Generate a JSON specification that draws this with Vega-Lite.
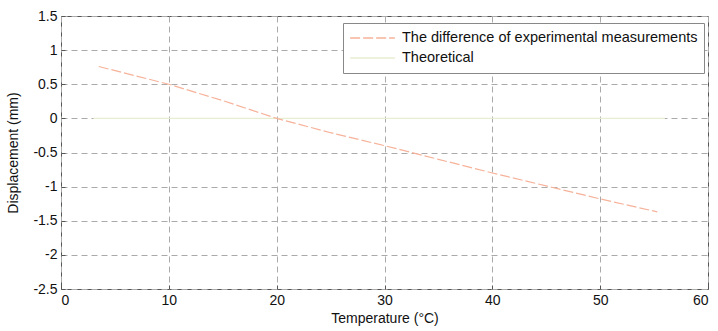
{
  "$schema": "https://vega.github.io/schema/vega-lite/v6.json",
  "width": 647,
  "height": 273,
  "autosize": {"type": "none"},
  "padding": {"left": 61, "top": 16, "right": 10, "bottom": 42},
  "background": "white",
  "config": {
    "font": "Liberation Sans",
    "view": {"stroke": "#555555", "strokeWidth": 1},
    "axis": {
      "labelFont": "Liberation Sans",
      "titleFont": "Liberation Sans",
      "labelFontSize": 14,
      "titleFontSize": 14,
      "titleFontWeight": "normal",
      "labelColor": "#111111",
      "titleColor": "#111111",
      "grid": true,
      "gridColor": "#aaaaaa",
      "gridDash": [6, 4],
      "gridWidth": 1,
      "domain": false,
      "tickColor": "#555555",
      "tickSize": -4,
      "labelPadding": 6
    }
  },
  "data": {
    "values": [
      {"t": 3.0, "d": 0.0, "series": "Theoretical"},
      {"t": 56.0, "d": 0.0, "series": "Theoretical"},
      {"t": 3.5, "d": 0.76, "series": "The difference of experimental measurements"},
      {"t": 10, "d": 0.50, "series": "The difference of experimental measurements"},
      {"t": 15, "d": 0.26, "series": "The difference of experimental measurements"},
      {"t": 20, "d": 0.0, "series": "The difference of experimental measurements"},
      {"t": 25, "d": -0.21, "series": "The difference of experimental measurements"},
      {"t": 30, "d": -0.40, "series": "The difference of experimental measurements"},
      {"t": 35, "d": -0.60, "series": "The difference of experimental measurements"},
      {"t": 40, "d": -0.80, "series": "The difference of experimental measurements"},
      {"t": 45, "d": -0.99, "series": "The difference of experimental measurements"},
      {"t": 50, "d": -1.18, "series": "The difference of experimental measurements"},
      {"t": 55.3, "d": -1.37, "series": "The difference of experimental measurements"}
    ]
  },
  "mark": {"type": "line", "strokeWidth": 1.2, "clip": true},
  "encoding": {
    "x": {
      "field": "t", "type": "quantitative",
      "scale": {"domain": [0, 60], "nice": false, "zero": false},
      "axis": {"title": "Temperature (°C)", "values": [0, 10, 20, 30, 40, 50, 60], "titlePadding": 4, "labelPadding": 8}
    },
    "y": {
      "field": "d", "type": "quantitative",
      "scale": {"domain": [-2.5, 1.5], "nice": false, "zero": false},
      "axis": {"title": "Displacement (mm)", "values": [-2.5, -2, -1.5, -1, -0.5, 0, 0.5, 1, 1.5], "labelExpr": "'' + datum.value", "labelPadding": 8, "titlePadding": 12}
    },
    "order": {"field": "series", "sort": "descending"},
    "color": {
      "field": "series", "type": "nominal",
      "scale": {"domain": ["The difference of experimental measurements", "Theoretical"], "range": ["#f6b29a", "#e6eed2"]},
      "legend": {
        "title": null,
        "orient": "none",
        "legendX": 282,
        "legendY": 7,
        "fillColor": "white",
        "strokeColor": "#888888",
        "padding": 6,
        "symbolType": "stroke",
        "symbolSize": 2000,
        "symbolStrokeWidth": 1.5,
        "clipHeight": 18,
        "labelFontSize": 14.5,
        "labelColor": "#111111",
        "labelFont": "Liberation Sans",
        "labelOffset": 6,
        "rowPadding": 2,
        "labelLimit": 400
      }
    },
    "strokeDash": {
      "field": "series", "type": "nominal",
      "scale": {"domain": ["The difference of experimental measurements", "Theoretical"], "range": [[10, 3], [1, 0]]},
      "legend": null
    }
  }
}
